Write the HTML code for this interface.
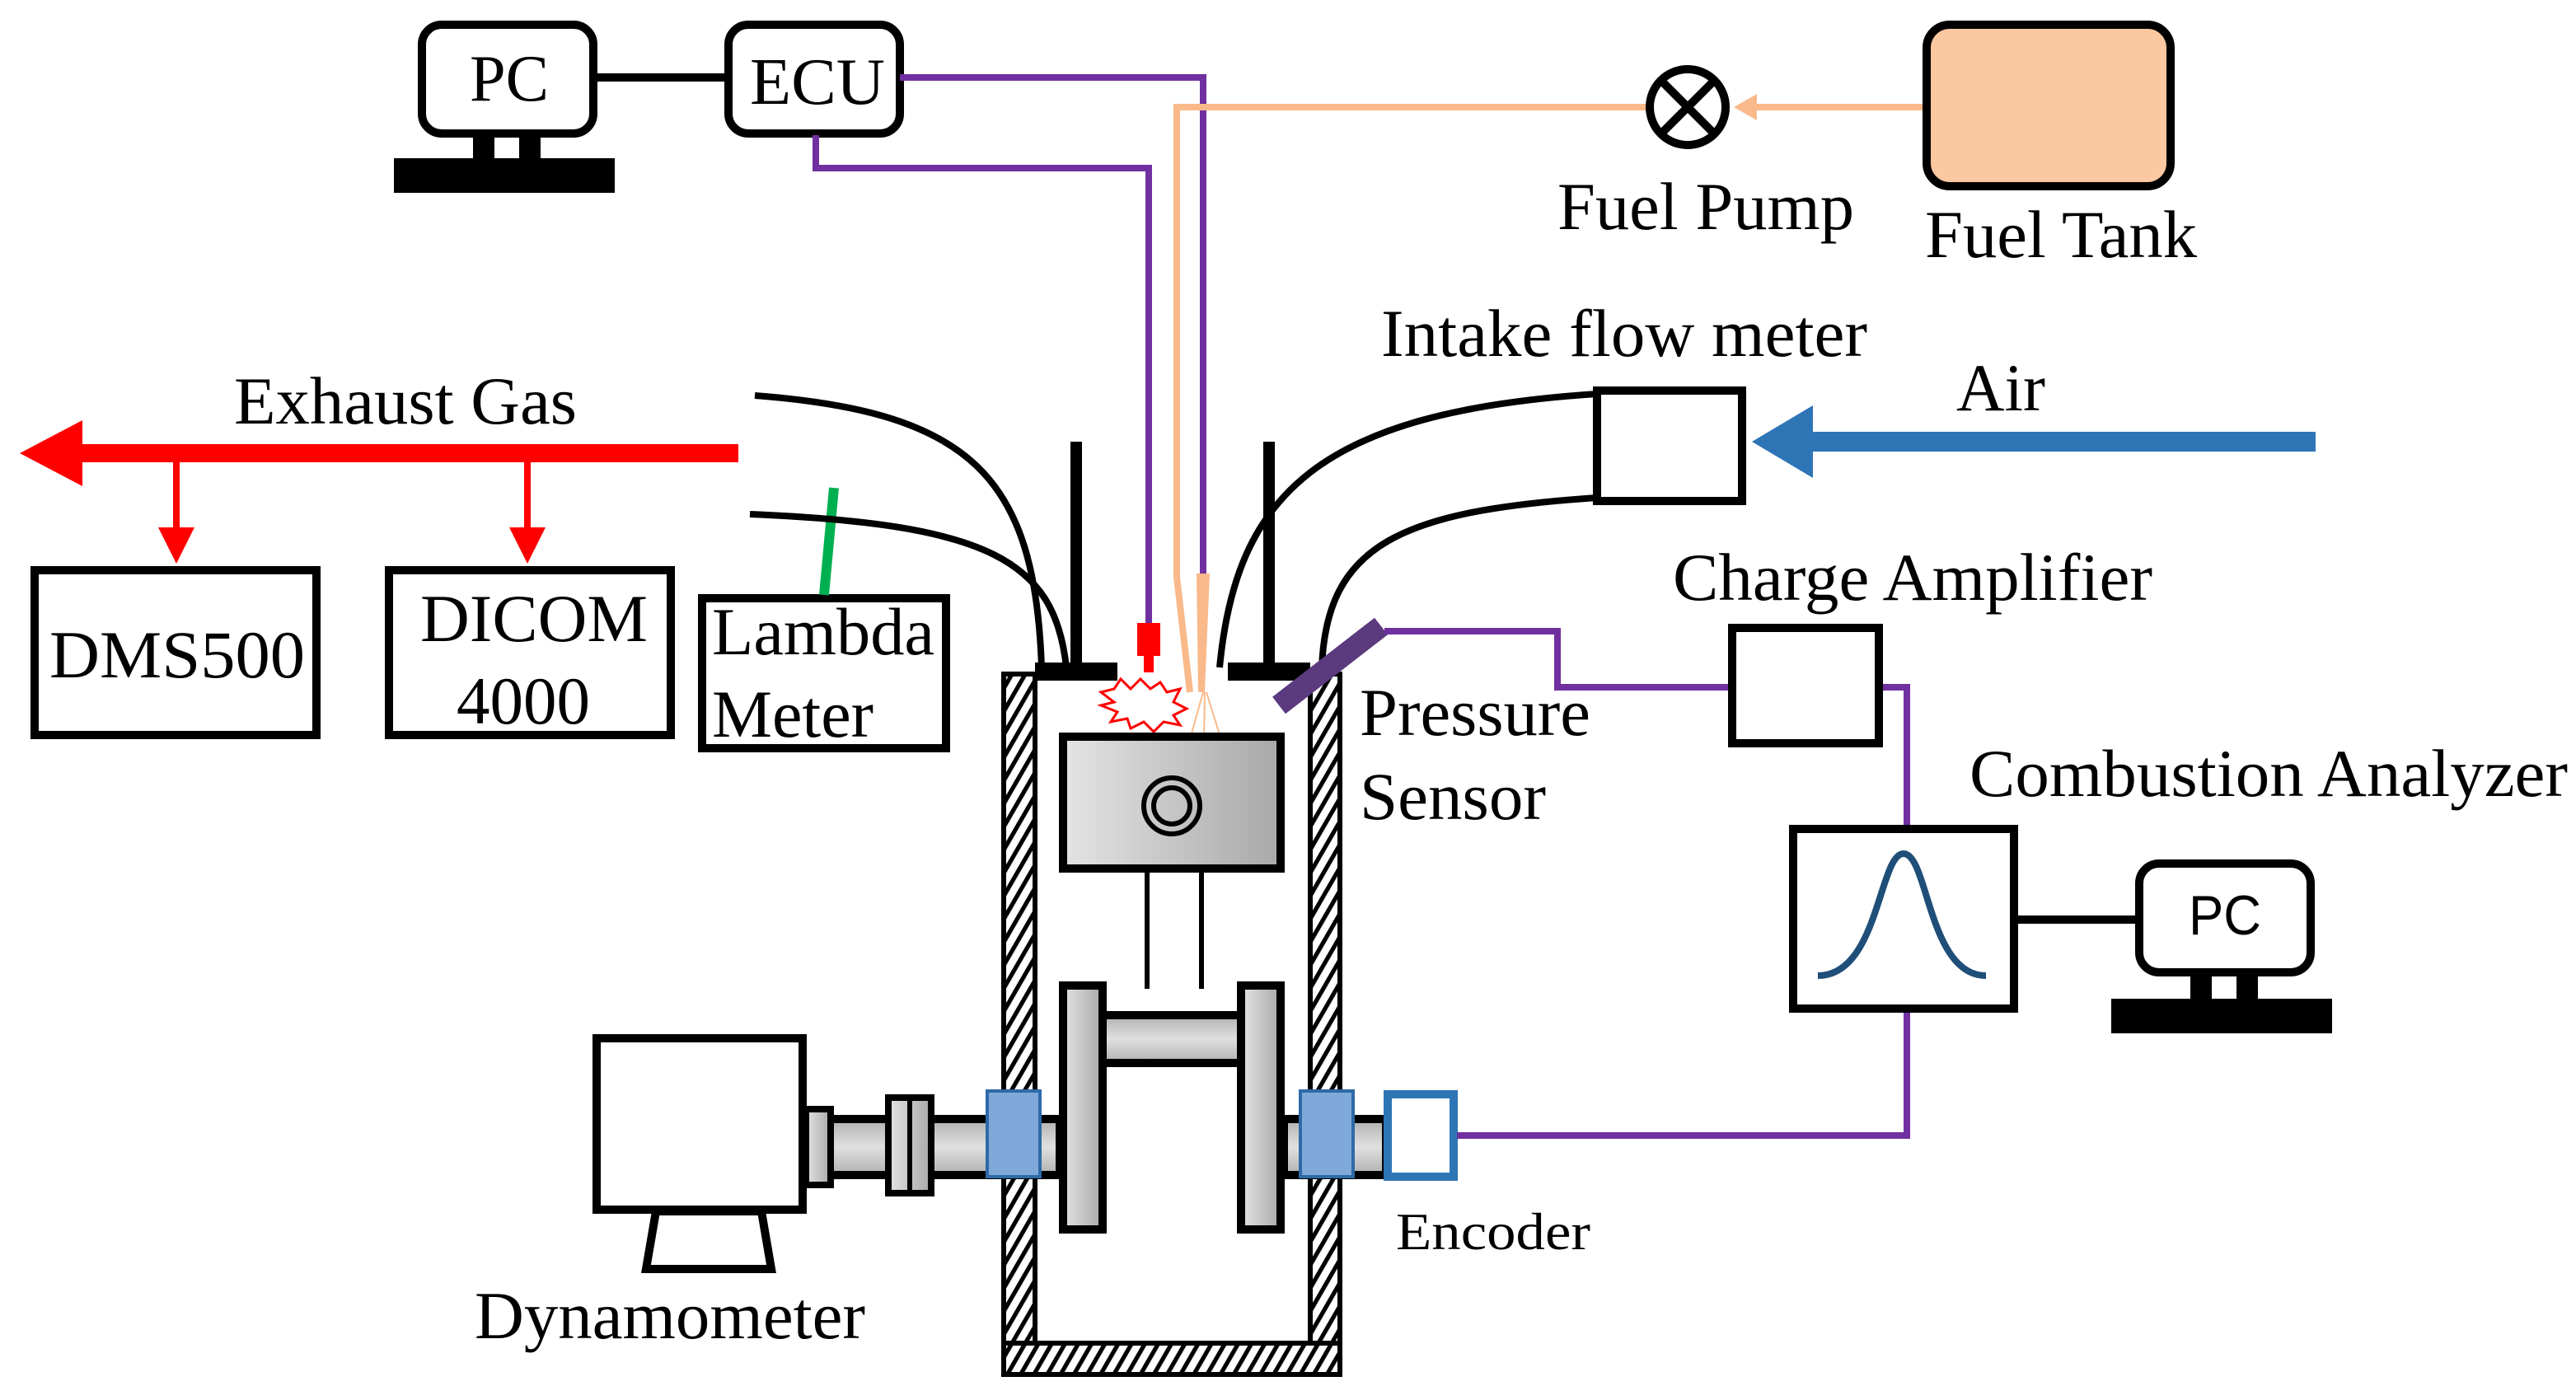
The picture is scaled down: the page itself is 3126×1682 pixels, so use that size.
<!DOCTYPE html>
<html><head><meta charset="utf-8"><style>
html,body{margin:0;padding:0;background:#fff;}
svg{display:block}
text{font-family:"Liberation Serif",serif;fill:#000}
</style></head><body>
<svg width="3126" height="1682" viewBox="0 0 1563 841" xmlns="http://www.w3.org/2000/svg">
<defs>
<pattern id="h" width="7" height="7" patternUnits="userSpaceOnUse" patternTransform="rotate(30)">
<rect width="7" height="7" fill="#fff"/><rect width="2.6" height="7" fill="#000"/></pattern>
<linearGradient id="g" x1="0" x2="1" y1="0" y2="0"><stop offset="0" stop-color="#e4e4e4"/><stop offset="1" stop-color="#a8a8a8"/></linearGradient>
<linearGradient id="gv" x1="0" x2="0" y1="0" y2="1"><stop offset="0" stop-color="#b0b0b0"/><stop offset="0.5" stop-color="#e0e0e0"/><stop offset="1" stop-color="#b0b0b0"/></linearGradient>
</defs>

<!-- PC top -->
<rect x="256" y="15" width="104" height="66" rx="12" fill="#fff" stroke="#000" stroke-width="5"/>
<text x="285" y="61" font-size="40" textLength="48" lengthAdjust="spacingAndGlyphs">PC</text>
<rect x="287" y="82" width="13" height="16" fill="#000"/><rect x="315" y="82" width="13" height="16" fill="#000"/>
<rect x="239" y="96" width="134" height="21" fill="#000"/>
<line x1="360" y1="47" x2="442" y2="47" stroke="#000" stroke-width="5"/>
<rect x="442" y="15" width="104" height="66" rx="12" fill="#fff" stroke="#000" stroke-width="5"/>
<text x="455" y="63" font-size="40" textLength="82" lengthAdjust="spacingAndGlyphs">ECU</text>

<!-- purple ECU lines -->
<polyline points="546,47 730,47 730,350" fill="none" stroke="#7030a0" stroke-width="4"/>
<polyline points="495,82 495,102 697,102 697,380" fill="none" stroke="#7030a0" stroke-width="4"/>
<!-- orange fuel line -->
<polyline points="1000,65 714,65 714,350 722,420" fill="none" stroke="#f9b98a" stroke-width="4"/>
<line x1="1168" y1="65" x2="1062" y2="65" stroke="#f9b98a" stroke-width="4"/>
<polygon points="1052,65 1066,57 1066,73" fill="#f9b98a"/>
<circle cx="1024" cy="65" r="23" fill="#fff" stroke="#000" stroke-width="5"/>
<line x1="1008" y1="49" x2="1040" y2="81" stroke="#000" stroke-width="5"/>
<line x1="1040" y1="49" x2="1008" y2="81" stroke="#000" stroke-width="5"/>
<rect x="1169" y="15" width="148" height="98" rx="14" fill="#fcc8a2" stroke="#000" stroke-width="5"/>
<text x="945" y="139" font-size="41" textLength="180" lengthAdjust="spacingAndGlyphs">Fuel Pump</text>
<text x="1168" y="156" font-size="41" textLength="165" lengthAdjust="spacingAndGlyphs">Fuel Tank</text>

<!-- intake -->
<text x="838" y="216" font-size="41" textLength="295" lengthAdjust="spacingAndGlyphs">Intake flow meter</text>
<rect x="969" y="237" width="88" height="67" fill="#fff" stroke="#000" stroke-width="5"/>
<line x1="1405" y1="268" x2="1090" y2="268" stroke="#2e75b6" stroke-width="12"/>
<polygon points="1063,268 1100,246 1100,290" fill="#2e75b6"/>
<text x="1187" y="249" font-size="41" textLength="54" lengthAdjust="spacingAndGlyphs">Air</text>

<!-- exhaust -->
<line x1="448" y1="275" x2="45" y2="275" stroke="#f00" stroke-width="11"/>
<polygon points="12,275 50,255 50,295" fill="#f00"/>
<line x1="107" y1="275" x2="107" y2="322" stroke="#f00" stroke-width="4"/>
<polygon points="107,342 96,320 118,320" fill="#f00"/>
<line x1="320" y1="275" x2="320" y2="322" stroke="#f00" stroke-width="4"/>
<polygon points="320,342 309,320 331,320" fill="#f00"/>
<text x="142" y="257" font-size="41" textLength="208" lengthAdjust="spacingAndGlyphs">Exhaust Gas</text>
<rect x="21" y="346" width="171" height="100" fill="#fff" stroke="#000" stroke-width="5"/>
<text x="30" y="411" font-size="41" textLength="155" lengthAdjust="spacingAndGlyphs">DMS500</text>
<rect x="236" y="346" width="171" height="100" fill="#fff" stroke="#000" stroke-width="5"/>
<text x="255" y="389" font-size="41" textLength="138" lengthAdjust="spacingAndGlyphs">DICOM</text>
<text x="277" y="439" font-size="41" textLength="81" lengthAdjust="spacingAndGlyphs">4000</text>
<rect x="426" y="363" width="148" height="91" fill="#fff" stroke="#000" stroke-width="5"/>
<text x="432" y="397" font-size="41" textLength="135" lengthAdjust="spacingAndGlyphs">Lambda</text>
<text x="432" y="447" font-size="41" textLength="98" lengthAdjust="spacingAndGlyphs">Meter</text>
<line x1="506" y1="296" x2="500" y2="361" stroke="#00b050" stroke-width="6"/>

<!-- ports -->
<path d="M458,240 C590,250 628,290 632,405" fill="none" stroke="#000" stroke-width="4"/>
<path d="M455,312 C600,318 640,340 647,405" fill="none" stroke="#000" stroke-width="4"/>
<path d="M969,239 C800,250 750,300 740,405" fill="none" stroke="#000" stroke-width="4"/>
<path d="M969,302 C850,310 805,330 802,405" fill="none" stroke="#000" stroke-width="4"/>
<line x1="653" y1="268" x2="653" y2="405" stroke="#000" stroke-width="7"/>
<line x1="770" y1="268" x2="770" y2="405" stroke="#000" stroke-width="7"/>
<rect x="628" y="402" width="50" height="11" fill="#000"/>
<rect x="745" y="402" width="50" height="11" fill="#000"/>

<!-- cylinder -->
<rect x="609" y="409" width="19" height="406" fill="url(#h)" stroke="#000" stroke-width="3"/>
<rect x="795" y="409" width="18" height="406" fill="url(#h)" stroke="#000" stroke-width="3"/>
<rect x="609" y="815" width="204" height="19" fill="url(#h)" stroke="#000" stroke-width="3"/>
<!-- spark plug & injector -->
<rect x="690" y="378" width="14" height="20" fill="#f00"/><rect x="694" y="396" width="6" height="12" fill="#f00"/>
<polygon points="668,420 676,418 680,412 686,418 692,412 698,418 704,414 708,420 716,418 712,426 720,430 712,434 716,440 706,438 700,444 694,438 686,442 684,436 674,438 678,432 668,428 676,426" fill="none" stroke="#f00" stroke-width="1.5"/>
<polygon points="726,348 734,348 731,420 727,420" fill="#f9b98a"/>
<line x1="730" y1="420" x2="716" y2="470" stroke="#f9b98a" stroke-width="1"/>
<line x1="731" y1="420" x2="730" y2="480" stroke="#f9b98a" stroke-width="1"/>
<line x1="732" y1="420" x2="746" y2="465" stroke="#f9b98a" stroke-width="1"/>
<!-- pressure sensor -->
<line x1="838" y1="380" x2="776" y2="428" stroke="#5b3a7e" stroke-width="13"/>
<!-- piston -->
<rect x="645" y="447" width="132" height="80" fill="url(#g)" stroke="#000" stroke-width="5"/>
<circle cx="711" cy="489" r="17" fill="none" stroke="#000" stroke-width="3"/>
<circle cx="711" cy="489" r="11" fill="none" stroke="#000" stroke-width="3"/>
<line x1="696" y1="528" x2="696" y2="600" stroke="#000" stroke-width="3"/>
<line x1="729" y1="528" x2="729" y2="600" stroke="#000" stroke-width="3"/>
<!-- crank -->
<rect x="669" y="616" width="84" height="29" fill="url(#gv)" stroke="#000" stroke-width="5"/>
<rect x="645" y="598" width="24" height="148" fill="url(#g)" stroke="#000" stroke-width="5"/>
<rect x="753" y="598" width="24" height="148" fill="url(#g)" stroke="#000" stroke-width="5"/>
<rect x="503" y="679" width="140" height="34" fill="url(#gv)" stroke="#000" stroke-width="5"/>
<rect x="779" y="679" width="62" height="34" fill="url(#gv)" stroke="#000" stroke-width="5"/>
<rect x="599" y="662" width="32" height="52" fill="#7fa9d8" stroke="#2e6aa8" stroke-width="2"/>
<rect x="789" y="662" width="32" height="52" fill="#7fa9d8" stroke="#2e6aa8" stroke-width="2"/>
<rect x="539" y="666" width="26" height="58" fill="url(#g)" stroke="#000" stroke-width="4"/>
<line x1="552" y1="666" x2="552" y2="724" stroke="#000" stroke-width="3"/>
<rect x="489" y="673" width="15" height="46" fill="url(#g)" stroke="#000" stroke-width="4"/>
<rect x="362" y="630" width="125" height="104" fill="#fff" stroke="#000" stroke-width="5"/>
<polygon points="398,735 462,735 468,770 392,770" fill="#fff" stroke="#000" stroke-width="5"/>
<text x="288" y="812" font-size="41" textLength="237" lengthAdjust="spacingAndGlyphs">Dynamometer</text>
<rect x="842" y="664" width="40" height="50" fill="#fff" stroke="#2e75b6" stroke-width="5"/>
<text x="847" y="758" font-size="32" textLength="118" lengthAdjust="spacingAndGlyphs">Encoder</text>

<!-- signal lines -->
<polyline points="884,689 1157,689 1157,612" fill="none" stroke="#7030a0" stroke-width="4"/>
<polyline points="840,383 945,383 945,417 1051,417" fill="none" stroke="#7030a0" stroke-width="4"/>
<polyline points="1140,417 1157,417 1157,502" fill="none" stroke="#7030a0" stroke-width="4"/>
<text x="825" y="446" font-size="41" textLength="140" lengthAdjust="spacingAndGlyphs">Pressure</text>
<text x="825" y="497" font-size="41" textLength="113" lengthAdjust="spacingAndGlyphs">Sensor</text>
<text x="1015" y="364" font-size="41" textLength="291" lengthAdjust="spacingAndGlyphs">Charge Amplifier</text>
<rect x="1051" y="381" width="89" height="70" fill="#fff" stroke="#000" stroke-width="5"/>
<text x="1195" y="483" font-size="41" textLength="363" lengthAdjust="spacingAndGlyphs">Combustion Analyzer</text>
<rect x="1088" y="503" width="134" height="109" fill="#fff" stroke="#000" stroke-width="5"/>
<path d="M1103,592 C1140,592 1140,518 1155,518 C1170,518 1170,592 1205,592" fill="none" stroke="#1f4e79" stroke-width="4"/>
<line x1="1222" y1="558" x2="1298" y2="558" stroke="#000" stroke-width="5"/>
<rect x="1298" y="524" width="104" height="66" rx="12" fill="#fff" stroke="#000" stroke-width="5"/>
<text x="1328" y="567" font-size="34" textLength="44" lengthAdjust="spacingAndGlyphs" style="font-family:'Liberation Sans',sans-serif">PC</text>
<rect x="1329" y="591" width="13" height="16" fill="#000"/><rect x="1357" y="591" width="13" height="16" fill="#000"/>
<rect x="1281" y="606" width="134" height="21" fill="#000"/>
</svg>
</body></html>
